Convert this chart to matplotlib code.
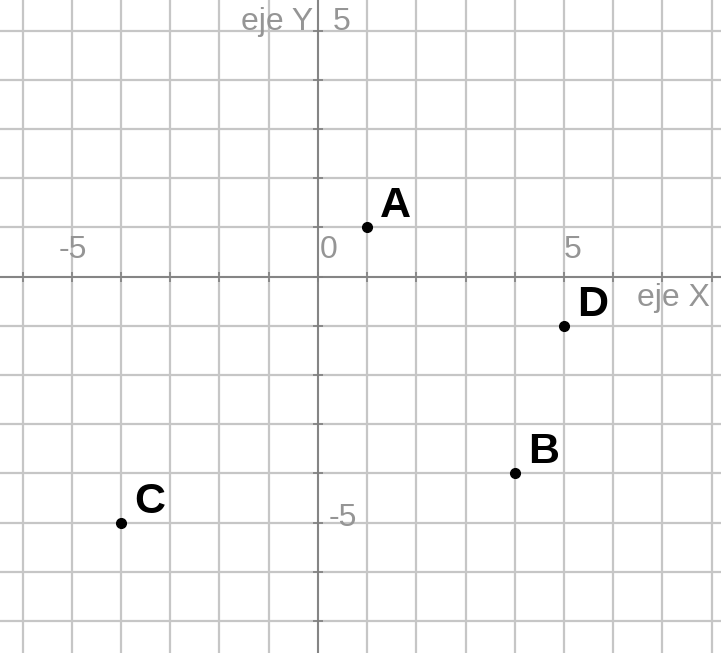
import matplotlib
matplotlib.use("Agg")
import matplotlib.pyplot as plt

# puntos del plano
names = ["A", "B", "C", "D"]
xs = [1, 4, -4, 5]
ys = [1, -4, -5, -1]

x_range = (-6.46, 8.19)
y_range = (-7.65, 5.62)
axis_col = "#7f7f7f"
label_col = "#959595"

fig = plt.figure(figsize=(7.21, 6.53), dpi=100)
ax = fig.add_axes([0, 0, 1, 1])
ax.set_xlim(*x_range)
ax.set_ylim(*y_range)

ax.set_xticks(range(-6, 9))
ax.set_yticks(range(-7, 6))
ax.grid(True, color="#c6c6c6", linewidth=1.6)
ax.set_axisbelow(True)

for side in ("top", "right"):
    ax.spines[side].set_visible(False)
for side in ("left", "bottom"):
    ax.spines[side].set_position(("data", 0))
    ax.spines[side].set_color(axis_col)
    ax.spines[side].set_linewidth(1.3)
ax.tick_params(direction="inout", length=7, width=1.2, color=axis_col,
               labelbottom=False, labelleft=False)

# etiquetas de los ejes (estilo GeoGebra)
tfont = dict(family="Liberation Sans", fontsize=23, color=label_col)
ax.text(-4.98, 0.54, "-5", ha="center", va="center", **tfont)
ax.text(0.04, 0.54, "0", ha="left", va="center", **tfont)
ax.text(5.18, 0.54, "5", ha="center", va="center", **tfont)
ax.text(0.3, 5.18, "5", ha="left", va="center", **tfont)
ax.text(0.22, -4.9, "-5", ha="left", va="center", **tfont)
ax.text(-0.1, 5.18, "eje Y", ha="right", va="center", **tfont)
ax.text(6.48, -0.43, "eje X", ha="left", va="center", **tfont)

ax.plot(xs, ys, "o", color="black", markersize=7, zorder=5)
for n, x, y in zip(names, xs, ys):
    ax.annotate(n, (x, y), xytext=(13, 10), textcoords="offset pixels",
                ha="left", va="baseline", family="Liberation Sans",
                fontweight="bold", fontsize=31, color="black", zorder=6)

fig.savefig("out.png", dpi=100)
